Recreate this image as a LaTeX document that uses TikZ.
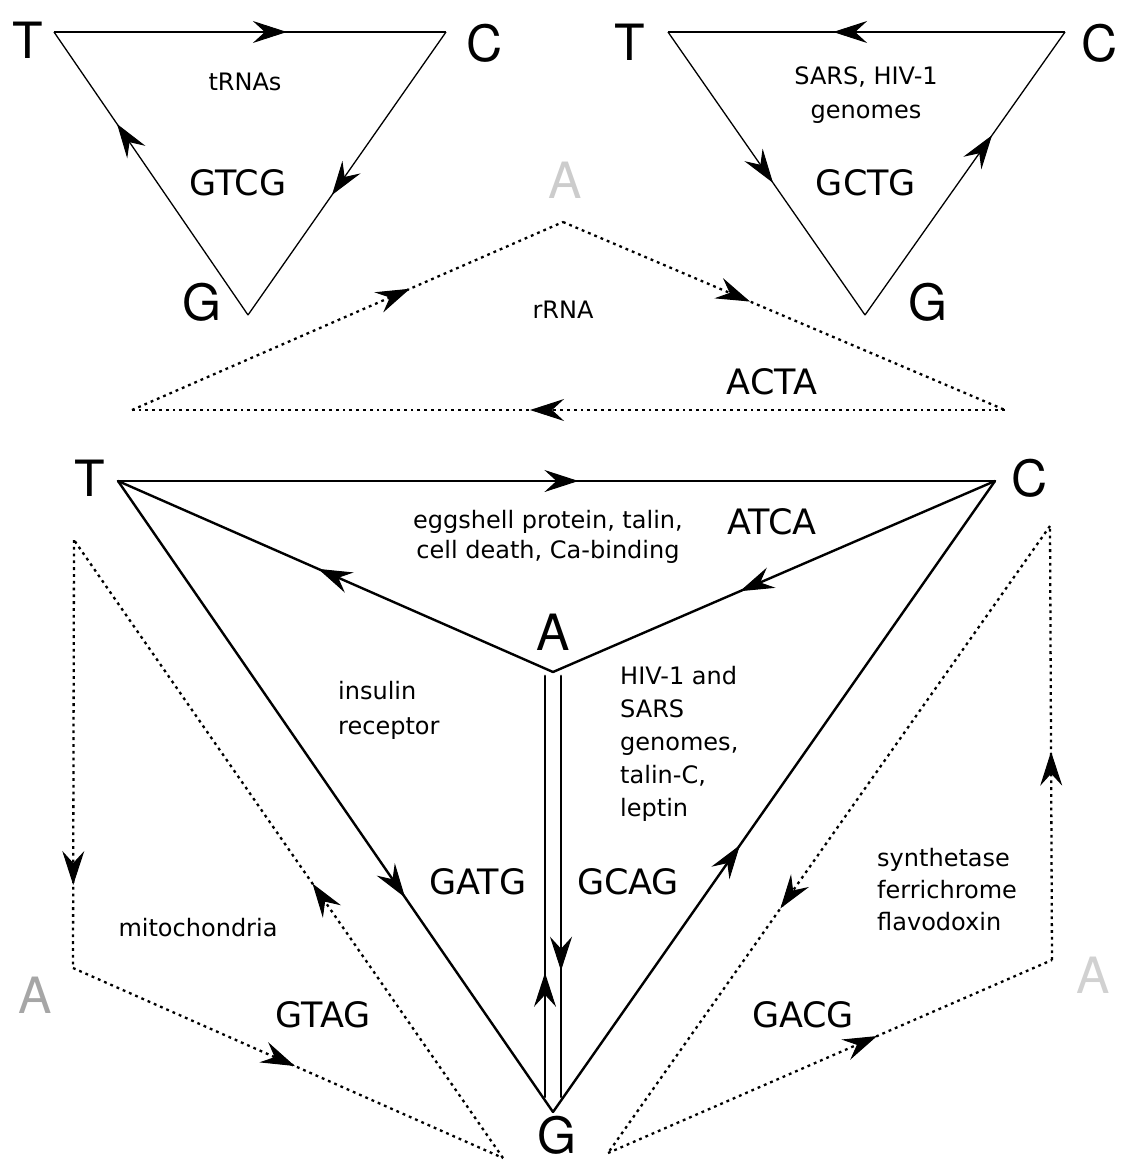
\documentclass[tikz,border=0pt]{standalone}
\usepackage{fontspec}
\setmainfont{DejaVu Sans}
\newfontfamily\basefont{TeX Gyre Heros}
\usetikzlibrary{arrows.meta,decorations.markings}

\begin{document}
\begin{tikzpicture}[x=1pt,y=-1pt,
  every node/.style={font=\fontsize{24}{30}\selectfont,inner sep=0pt},
  base/.style={font=\basefont\fontsize{50}{50}\selectfont},
  ghost/.style={base,text=black!#1},
  codon/.style={font=\fontsize{35}{35}\selectfont},
  side/.style={line width=1.3pt},
  mainside/.style={line width=2.4pt,line cap=round},
  dotside/.style={line width=2.3pt,dash pattern=on 2.8pt off 4pt},
  mid/.style={postaction={decorate},decoration={markings,
    mark=at position #1 with {\arrow[line width=1pt]{Stealth[length=34pt,width=22pt,inset=12pt]}}}}]
  \useasboundingbox (0,0) rectangle (1124,1164);
  % tRNA triangle
  \coordinate (t1) at (54,32); \coordinate (c1) at (446,32); \coordinate (g1) at (248,315);
  \draw[side,mid=0.594] (t1) -- (c1);
  \draw[side,mid=0.576] (c1) -- (g1);
  \draw[side,mid=0.675] (g1) -- (t1);
  \node[base] (T1) at (28,40) {T};
  \node[base] (C1) at (485,43) {C};
  \node[base] (G1) at (202,302) {G};
  \node (trna) at (245,82) {tRNAs};
  \node[codon] (gtcg) at (238,183) {GTCG};
  % SARS, HIV-1 triangle
  \coordinate (t2) at (668,32); \coordinate (c2) at (1065,32); \coordinate (g2) at (865,315);
  \draw[side,mid=0.584] (c2) -- (t2);
  \draw[side,mid=0.533] (t2) -- (g2);
  \draw[side,mid=0.635] (g2) -- (c2);
  \node[base] (T2) at (630,42) {T};
  \node[base] (C2) at (1100,43) {C};
  \node[base] (G2) at (928,302) {G};
  \node[align=center,font=\fontsize{24}{34}\selectfont] (virus) at (866,95) {SARS, HIV-1\\genomes};
  \node[codon] (gctg) at (866,183) {GCTG};
  % rRNA
  \coordinate (l3) at (132,410); \coordinate (a3) at (563,222); \coordinate (r3) at (1005,410);
  \draw[dotside,mid=0.645] (l3) -- (a3);
  \draw[dotside,mid=0.423] (a3) -- (r3);
  \draw[dotside,mid=0.544] (r3) -- (l3);
  \node[ghost=20] (A3) at (565,180) {A};
  \node (rrna) at (563,310) {rRNA};
  \node[codon] (acta) at (772,382) {ACTA};
  % main triangle
  \coordinate (T) at (118,481); \coordinate (C) at (995,481);
  \coordinate (A) at (553,672); \coordinate (G) at (553,1112);
  \coordinate (Ga) at (545,1097); \coordinate (Aa) at (545,676);
  \coordinate (Ab) at (561,676); \coordinate (Gb) at (561,1097);
  \draw[mainside,mid=0.525] (T) -- (C);
  \draw[mainside,mid=0.577] (C) -- (A);
  \draw[mainside,mid=0.54] (A) -- (T);
  \draw[mainside,mid=0.66] (T) -- (G);
  \draw[mainside,mid=0.423] (G) -- (C);
  \draw[mainside,line width=2.8pt,mid=0.295] (Ga) -- (Aa);
  \draw[mainside,line width=2.8pt,mid=0.70] (Ab) -- (Gb);
  \node[base] (Tm) at (90,478) {T};
  \node[base] (Cm) at (1030,478) {C};
  \node[base] (Am) at (553,632) {A};
  \node[base] (Gm) at (557,1135) {G};
  \node[align=center] (egg) at (548,537) {eggshell protein, talin,\\cell death, Ca-binding};
  \node[codon] (atca) at (772,522) {ATCA};
  \node[align=left,anchor=west,font=\fontsize{24}{35}\selectfont] (ins) at (338,710) {insulin\\receptor};
  \node[align=left,anchor=west,font=\fontsize{24}{33}\selectfont] (hiv) at (620,744) {HIV-1 and\\SARS\\genomes,\\talin-C,\\leptin};
  \node[codon] (gatg) at (478,882) {GATG};
  \node[codon] (gcag) at (628,882) {GCAG};
  % mitochondria
  \coordinate (t4) at (74,540); \coordinate (a4) at (73,968); \coordinate (g4) at (503,1158);
  \draw[dotside,mid=0.806] (t4) -- (a4);
  \draw[dotside,mid=0.516] (a4) -- (g4);
  \draw[dotside,mid=0.444] (g4) -- (t4);
  \node[ghost=35] (A4) at (35,995) {A};
  \node (mito) at (198,928) {mitochondria};
  \node[codon] (gtag) at (323,1015) {GTAG};
  % synthetase, ferrichrome, flavodoxin
  \coordinate (c5) at (1050,526); \coordinate (a5) at (1052,960); \coordinate (g5) at (608,1153);
  \draw[dotside,mid=0.48] (a5) -- (c5);
  \draw[dotside,mid=0.61] (c5) -- (g5);
  \draw[dotside,mid=0.606] (g5) -- (a5);
  \node[ghost=18] (A5) at (1093,975) {A};
  \node[align=left,anchor=west,font=\fontsize{24}{32}\selectfont] (synth) at (877,890) {synthetase\\ferrichrome\\flavodoxin};
  \node[codon] (gacg) at (803,1015) {GACG};
\end{tikzpicture}
\end{document}
